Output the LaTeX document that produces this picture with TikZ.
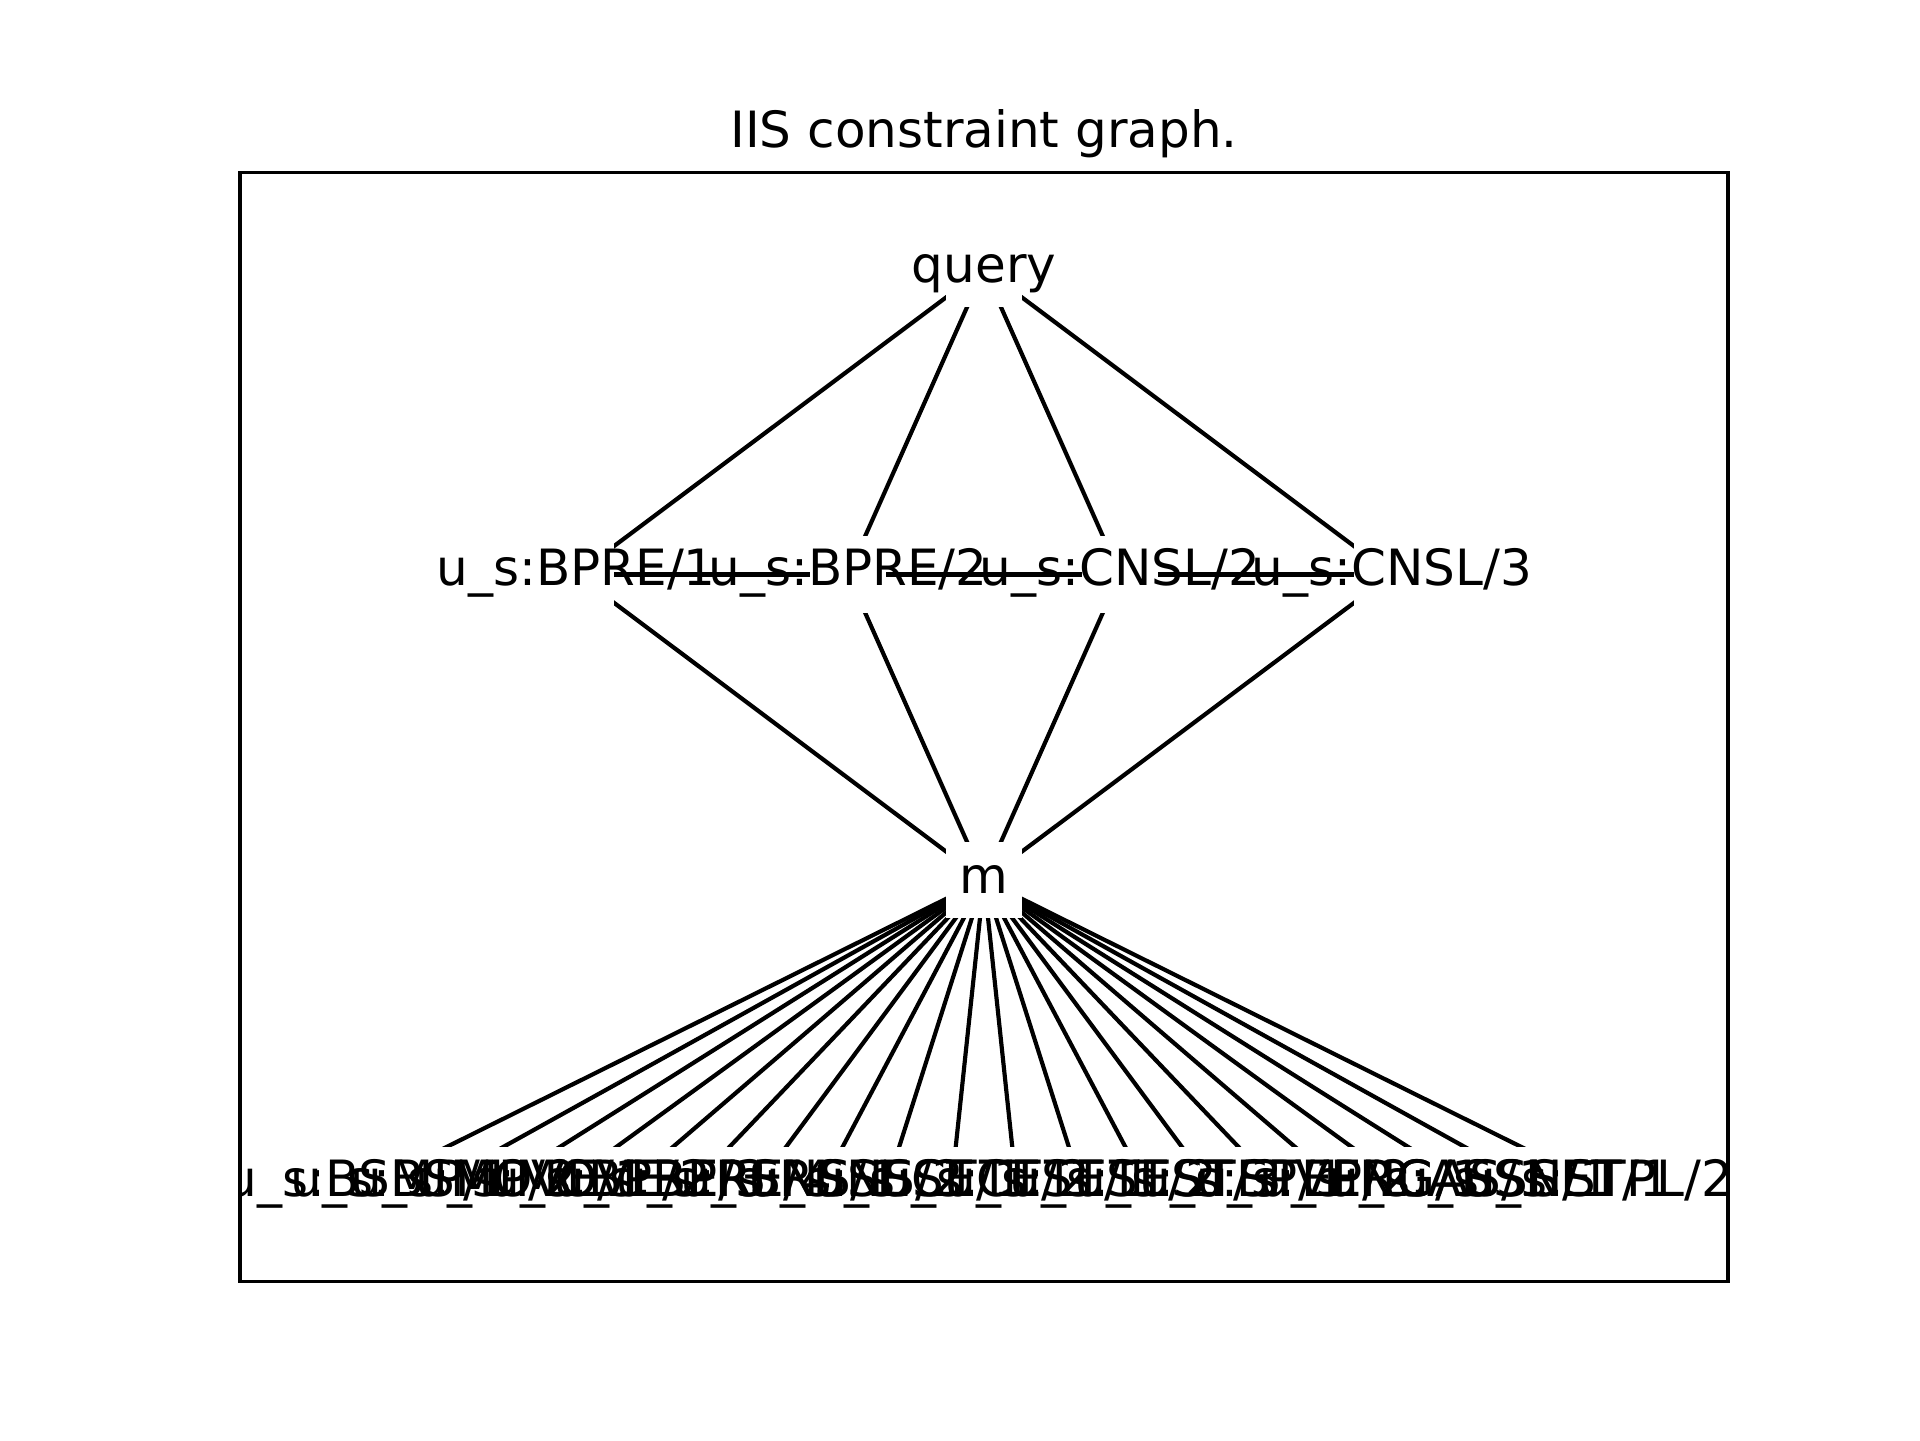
\documentclass[tikz,border=0pt]{standalone}
\usepackage{fontspec}
\setmainfont{DejaVu Sans}
\begin{document}
\begin{tikzpicture}[x=0.24pt,y=-0.24pt,
  lbl/.style={font=\fontsize{12pt}{14pt}\selectfont, inner sep=0pt, text height=0.76em, text depth=0.236em, anchor=center},
  lblp/.style={lbl, text depth=0.208em, yshift=-0.6pt},
  ttl/.style={font=\fontsize{12pt}{14pt}\selectfont, inner sep=0pt, anchor=base},
  sq/.style={fill=white, draw=none, inner sep=0pt, minimum size=18.32pt},
  edge/.style={line width=1pt, black},
  frame/.style={line width=0.8pt, black}]
\useasboundingbox (0,0) rectangle (1920,1440);
% positions
\coordinate (q) at (984,268.95);
\coordinate (b1) at (576.2,574.45);
\coordinate (b2) at (848.1,574.45);
\coordinate (b3) at (1119.9,574.45);
\coordinate (b4) at (1391.8,574.45);
\coordinate (m) at (984,879.95);
\foreach \k in {1,...,20} {
  \coordinate (l\k) at ({984+(\k/21-0.5)*1359.2},1185.45);
}
% edges
\foreach \b in {b1,b2,b3,b4} {
  \draw[edge] (q) -- (\b);
  \draw[edge] (\b) -- (m);
}
\draw[edge] (b1) -- (b2);
\draw[edge] (b2) -- (b3);
\draw[edge] (b3) -- (b4);
\foreach \k in {1,...,20} {
  \draw[edge] (m) -- (l\k);
}
% white square markers
\node[sq] (qs) at (q) {};
\node[sq] (b1s) at (b1) {};
\node[sq] (b2s) at (b2) {};
\node[sq] (b3s) at (b3) {};
\node[sq] (b4s) at (b4) {};
\node[sq] (ms) at (m) {};
\foreach \k in {1,...,20} {
  \node[sq] (l\k s) at (l\k) {};
}
% labels (clipped to the axes)
\begin{scope}
\clip (240,172.8) rectangle (1728,1281.6);
\node[lblp] (tq) at (q) {query};
\node[lbl] (tb1) at (b1) {u\_s:BPRE/1};
\node[lbl] (tb2) at (b2) {u\_s:BPRE/2};
\node[lbl] (tb3) at (b3) {u\_s:CNSL/2};
\node[lbl] (tb4) at (b4) {u\_s:CNSL/3};
\node[lblp] (tm) at (m) {m};
\node[lbl] (t1) at (l1) {u\_s:BSMP/1};
\node[lbl] (t2) at (l2) {u\_s:BSMP/2};
\node[lbl] (t3) at (l3) {u\_s:MOVE/1};
\node[lbl] (t4) at (l4) {u\_s:MOVE/2};
\node[lbl] (t5) at (l5) {u\_s:BPRE/3};
\node[lbl] (t6) at (l6) {u\_s:BPRE/4};
\node[lbl] (t7) at (l7) {u\_s:RSNS/1};
\node[lbl] (t8) at (l8) {u\_s:RSNS/2};
\node[lbl] (t9) at (l9) {u\_s:SECT/1};
\node[lbl] (t10) at (l10) {u\_s:SECT/2};
\node[lbl] (t11) at (l11) {u\_s:TEST/1};
\node[lbl] (t12) at (l12) {u\_s:TEST/2};
\node[lbl] (t13) at (l13) {u\_s:TEST/3};
\node[lbl] (t14) at (l14) {u\_s:STEP/1};
\node[lbl] (t15) at (l15) {u\_s:STEP/2};
\node[lbl] (t16) at (l16) {u\_s:VERG/1};
\node[lbl] (t17) at (l17) {u\_s:NGAS/1};
\node[lbl] (t18) at (l18) {u\_s:ASSN/1};
\node[lbl] (t19) at (l19) {u\_s:SSET/1};
\node[lbl] (t20) at (l20) {u\_s:STPL/2};
\end{scope}
% axes frame and title
\draw[frame] (240,172.8) rectangle (1728,1281.6);
\node[ttl] (title) at (984,147.8) {IIS constraint graph.};
\end{tikzpicture}
\end{document}
